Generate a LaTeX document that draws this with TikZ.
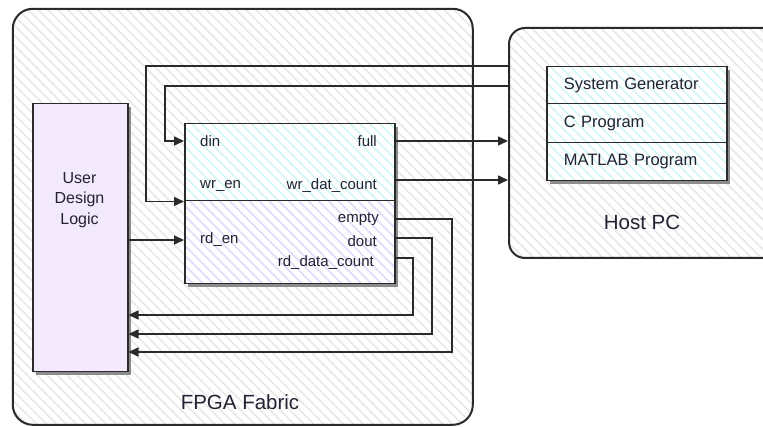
\documentclass[tikz,border=0pt]{standalone}
\usepackage{fontspec}
\setmainfont{Liberation Sans}
\usetikzlibrary{arrows.meta,patterns.meta,calc}
\definecolor{hatchgray}{HTML}{E8E8E8}
\definecolor{hatchcyan}{HTML}{D2F6F6}
\definecolor{hatchlav}{HTML}{DCDCFA}
\definecolor{udlfill}{HTML}{F2E9FC}
\definecolor{edge}{HTML}{2A2A2A}
\definecolor{txt}{HTML}{222233}
\definecolor{shadowgray}{HTML}{8C8C8C}
\begin{document}
\begin{tikzpicture}[x=1pt,y=-1pt,
  bigbox/.style={draw=edge, line width=2pt, rounded corners=#1, anchor=north west,
    preaction={fill=white},
    pattern={Lines[angle=-45,distance=7pt,line width=1.6pt]}, pattern color=hatchgray},
  shadowbox/.style={fill=shadowgray},
  box/.style={draw=edge, line width=1.5pt, anchor=north west, inner sep=0pt},
  cyanbox/.style={box, preaction={fill=white},
    pattern={Lines[angle=-45,distance=7pt,line width=1.6pt]}, pattern color=hatchcyan},
  lavbox/.style={box, preaction={fill=white},
    pattern={Lines[angle=-45,distance=7pt,line width=1.6pt]}, pattern color=hatchlav},
  port/.style={inner sep=0pt, text=txt, font=\fontsize{15}{17}\selectfont},
  biglbl/.style={inner sep=0pt, text=txt, font=\fontsize{20.5}{24}\selectfont},
  listtxt/.style={text=txt, font=\fontsize{16.5}{19}\selectfont, align=left,
    inner xsep=17pt, text width=146pt},
  arr/.style={draw=edge, line width=1.5pt, -{Triangle[length=10pt,width=9pt]}},
]
\clip (0,0) rectangle (763,427);
\fill[white] (0,0) rectangle (763,427);

% big containers
\node[bigbox=20pt, minimum width=460pt, minimum height=416pt] (fpga) at (12,8) {};
\node[bigbox=16pt, minimum width=280pt, minimum height=230pt] (host) at (508,27) {};

\node[biglbl] (fpgalbl) at (240,402) {FPGA Fabric};
\node[biglbl] (hostlbl) at (642,222) {Host PC};

% shadows
\fill[shadowbox] (550,70) rectangle (730,184);
\fill[shadowbox] (36,107) rectangle (131,375);
\fill[shadowbox] (188,127) rectangle (398,287);

% host list
\node[cyanbox, listtxt, minimum height=37pt] (sg) at (546,66) {System Generator};
\node[cyanbox, listtxt, minimum height=39pt] (cp) at (546,103) {C Program};
\node[cyanbox, listtxt, minimum height=38pt] (mp) at (546,142) {MATLAB Program};

% user design logic
\node[box, fill=udlfill, minimum width=95pt, minimum height=268pt] (udl) at (32,103) {};
\node[text=txt, font=\fontsize{16}{20.5}\selectfont, align=center, inner sep=0pt] (udltext) at (79.5,200) {User\\Design\\Logic};

% FIFO
\node[cyanbox, minimum width=210pt, minimum height=77pt] (fifotop) at (184,123) {};
\node[lavbox, minimum width=210pt, minimum height=83pt] (fifobot) at (184,200) {};

\node[port, anchor=west] (din) at (200,141) {din};
\node[port, anchor=east] (full) at (377,141) {full};
\node[port, anchor=west] (wren) at (200,186) {wr\_en};
\node[port, anchor=east] (wrc) at (377,186) {wr\_dat\_count};
\node[port, anchor=east] (empty) at (379,219) {empty};
\node[port, anchor=west] (rden) at (200,240) {rd\_en};
\node[port, anchor=east] (dout) at (377,241) {dout};
\node[port, anchor=east] (rdc) at (374,263) {rd\_data\_count};

% routing coordinates
\coordinate (bwren) at (146,66);
\coordinate (bdin) at (165,86);
\coordinate (yfull) at (0,141);
\coordinate (ywrc) at (0,180);
\coordinate (yrden) at (0,240);
\coordinate (yempty) at (0,219);
\coordinate (ydout) at (0,238);
\coordinate (yrdc) at (0,258);
\coordinate (bempty) at (452,352);
\coordinate (bdout) at (432,334);
\coordinate (brdc) at (413,315);

% connectors
\draw[arr] (host.west |- bwren) -- (bwren) |- (fifotop.south west);
\draw[arr] (host.west |- bdin) -- (bdin) |- (fifotop.west |- din);
\draw[arr] (fifotop.east |- yfull) -- (host.west |- yfull);
\draw[arr] (fifotop.east |- ywrc) -- (host.west |- ywrc);
\draw[arr] (udl.east |- yrden) -- (fifobot.west |- yrden);
\draw[arr] (fifobot.east |- yempty) -| (bempty) -- (udl.east |- bempty);
\draw[arr] (fifobot.east |- ydout) -| (bdout) -- (udl.east |- bdout);
\draw[arr] (fifobot.east |- yrdc) -| (brdc) -- (udl.east |- brdc);
\end{tikzpicture}
\end{document}
